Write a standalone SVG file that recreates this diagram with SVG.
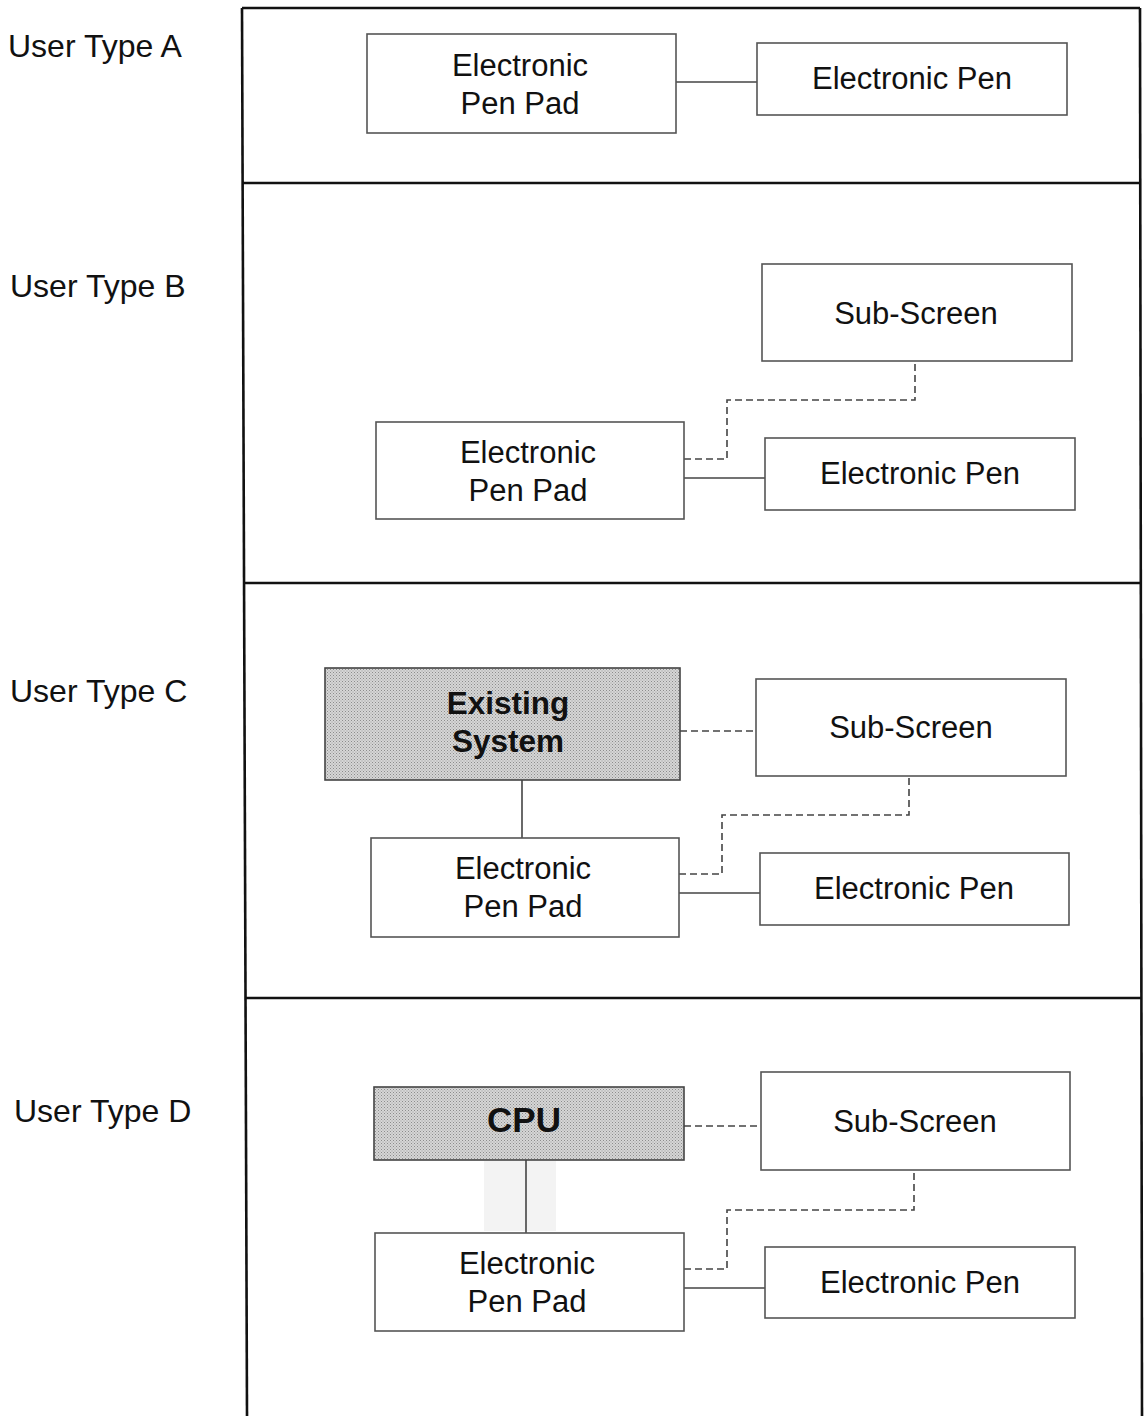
<svg xmlns="http://www.w3.org/2000/svg" width="1144" height="1416" viewBox="0 0 1144 1416">
  <defs>
    <!-- stippled halftone fill for the shaded blocks -->
    <pattern id="stipple" width="3" height="3" patternUnits="userSpaceOnUse">
      <rect width="3" height="3" fill="#d6d6d6"/>
      <rect x="0" y="0" width="1" height="1" fill="#8c8c8c"/>
      <rect x="1.5" y="1.5" width="1" height="1" fill="#9a9a9a"/>
    </pattern>
    <style>
      .frame { fill: none; stroke: #111; stroke-width: 2.6; }
      .box { fill: #fff; stroke: #555; stroke-width: 1.6; }
      .shaded { fill: url(#stipple); stroke: #444; stroke-width: 1.6; }
      .solid { fill: none; stroke: #444; stroke-width: 1.6; }
      .dash { fill: none; stroke: #444; stroke-width: 1.6; stroke-dasharray: 7 4; }
      .t { font-family: "Liberation Sans", Arial, sans-serif; font-size: 31px; fill: #111; text-anchor: middle; }
      .tb { font-family: "Liberation Sans", Arial, sans-serif; font-size: 31.5px; font-weight: bold; fill: #111; text-anchor: middle; }
      .lbl { font-family: "Liberation Sans", Arial, sans-serif; font-size: 32px; fill: #111; }
    </style>
  </defs>

  <rect width="1144" height="1416" fill="#fff"/>

  <!-- outer frame and panel dividers -->
  <g id="frame">
    <path class="frame" d="M242 8 L1140 8"/>
    <path class="frame" d="M242 8 L247 1416"/>
    <path class="frame" d="M1140 8 L1142 1416"/>
    <path class="frame" d="M242 183 L1140 183"/>
    <path class="frame" d="M244 583 L1141 583"/>
    <path class="frame" d="M246 998 L1142 998"/>
  </g>

  <!-- row labels -->
  <g id="labels">
    <text class="lbl" x="8" y="57">User Type A</text>
    <text class="lbl" x="10" y="297">User Type B</text>
    <text class="lbl" x="10" y="702">User Type C</text>
    <text class="lbl" x="14" y="1122">User Type D</text>
  </g>

  <!-- connectors -->
  <g id="connectors">
    <!-- A -->
    <path class="solid" d="M676 82 H757"/>
    <!-- B -->
    <path class="solid" d="M684 478 H765"/>
    <path class="dash" d="M684 459 H727 V400 H915 V361"/>
    <!-- C -->
    <path class="dash" d="M680 731 H756"/>
    <path class="solid" d="M522 780 V838"/>
    <path class="solid" d="M679 893 H760"/>
    <path class="dash" d="M679 874 H722 V815 H909 V776"/>
    <!-- D -->
    <path class="dash" d="M684 1126 H761"/>
    <rect x="484" y="1161" width="72" height="70" fill="#f3f3f3"/>
    <path class="solid" d="M526 1160 V1233"/>
    <path class="solid" d="M684 1288 H765"/>
    <path class="dash" d="M684 1269 H727 V1210 H914 V1170"/>
  </g>

  <!-- User Type A -->
  <g id="a-pad">
    <rect class="box" x="367" y="34" width="309" height="99"/>
    <text class="t" x="520" y="76">Electronic</text>
    <text class="t" x="520" y="114">Pen Pad</text>
  </g>
  <g id="a-pen">
    <rect class="box" x="757" y="43" width="310" height="72"/>
    <text class="t" x="912" y="89">Electronic Pen</text>
  </g>

  <!-- User Type B -->
  <g id="b-sub">
    <rect class="box" x="762" y="264" width="310" height="97"/>
    <text class="t" x="916" y="324">Sub-Screen</text>
  </g>
  <g id="b-pad">
    <rect class="box" x="376" y="422" width="308" height="97"/>
    <text class="t" x="528" y="463">Electronic</text>
    <text class="t" x="528" y="501">Pen Pad</text>
  </g>
  <g id="b-pen">
    <rect class="box" x="765" y="438" width="310" height="72"/>
    <text class="t" x="920" y="484">Electronic Pen</text>
  </g>

  <!-- User Type C -->
  <g id="c-existing">
    <rect class="shaded" x="325" y="668" width="355" height="112"/>
    <text class="tb" x="508" y="714">Existing</text>
    <text class="tb" x="508" y="752">System</text>
  </g>
  <g id="c-sub">
    <rect class="box" x="756" y="679" width="310" height="97"/>
    <text class="t" x="911" y="738">Sub-Screen</text>
  </g>
  <g id="c-pad">
    <rect class="box" x="371" y="838" width="308" height="99"/>
    <text class="t" x="523" y="879">Electronic</text>
    <text class="t" x="523" y="917">Pen Pad</text>
  </g>
  <g id="c-pen">
    <rect class="box" x="760" y="853" width="309" height="72"/>
    <text class="t" x="914" y="899">Electronic Pen</text>
  </g>

  <!-- User Type D -->
  <g id="d-cpu">
    <rect class="shaded" x="374" y="1087" width="310" height="73"/>
    <text class="tb" x="524" y="1132" style="font-size:35px">CPU</text>
  </g>
  <g id="d-sub">
    <rect class="box" x="761" y="1072" width="309" height="98"/>
    <text class="t" x="915" y="1132">Sub-Screen</text>
  </g>
  <g id="d-pad">
    <rect class="box" x="375" y="1233" width="309" height="98"/>
    <text class="t" x="527" y="1274">Electronic</text>
    <text class="t" x="527" y="1312">Pen Pad</text>
  </g>
  <g id="d-pen">
    <rect class="box" x="765" y="1247" width="310" height="71"/>
    <text class="t" x="920" y="1293">Electronic Pen</text>
  </g>
</svg>
